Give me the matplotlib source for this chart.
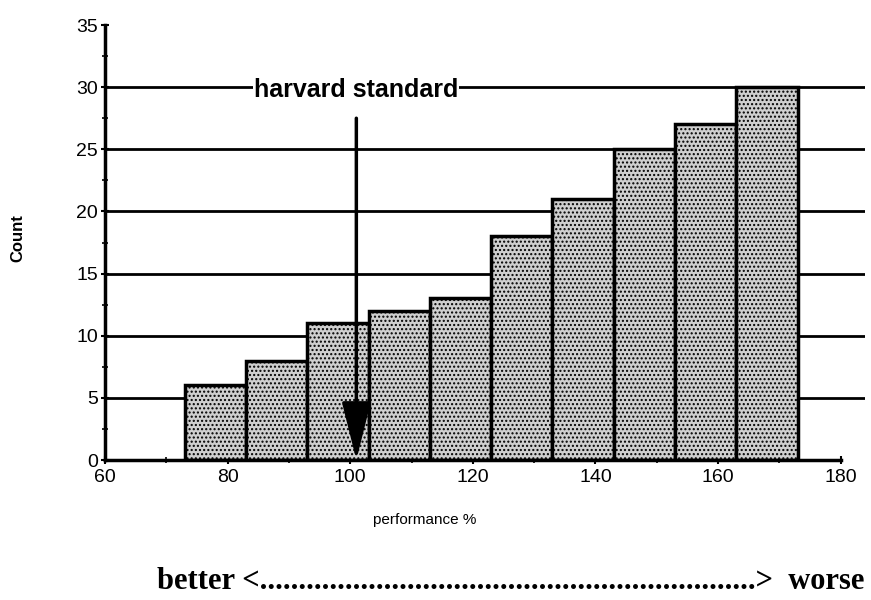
import matplotlib.pyplot as plt
from matplotlib.ticker import MultipleLocator

# ── Data ────────────────────────────────────────────────────────────────────
bin_edges = [73, 83, 93, 103, 113, 123, 133, 143, 153, 163, 173]
counts    = [6, 8, 11, 12, 13, 18, 21, 25, 27, 30]
grid_y    = [5, 10, 15, 20, 25, 30]
x_ticks   = [60, 80, 100, 120, 140, 160, 180]
y_ticks   = [0, 5, 10, 15, 20, 25, 30, 35]
standard_x = 101
arrow_top  = 27.5

plt.rcParams.update({"font.family": "Liberation Sans", "hatch.color": "#6a6a6a"})

fig = plt.figure(figsize=(8.71, 6.0), dpi=100)
ax = fig.add_axes([0.1206, 0.2333, 0.8726, 0.725])

# gridlines behind the bars
for gy in grid_y:
    ax.axhline(gy, color="black", linewidth=2.0, zorder=1)

widths = [b - a for a, b in zip(bin_edges[:-1], bin_edges[1:])]
ax.bar(bin_edges[:-1], counts, width=widths, align="edge",
       facecolor="#cfcfcf", edgecolor="black", linewidth=2.5,
       hatch="....", zorder=2)

# harvard standard arrow
ax.annotate("", xy=(standard_x, 0), xytext=(standard_x, arrow_top),
            arrowprops=dict(arrowstyle="-|>,head_length=3.6,head_width=0.9",
                            color="black", linewidth=2.5, shrinkA=0, shrinkB=0),
            zorder=4)
ax.text(standard_x, 29.8, "harvard standard", ha="center", va="center",
        fontsize=18, fontweight="bold", zorder=5,
        bbox=dict(facecolor="white", edgecolor="none", pad=0.5))

ax.set_xlim(60, 184)
ax.set_ylim(0, 35)
ax.set_xticks(x_ticks)
ax.set_yticks(y_ticks)
ax.xaxis.set_minor_locator(MultipleLocator(10))
ax.yaxis.set_minor_locator(MultipleLocator(2.5))
ax.tick_params(axis="both", which="major", direction="inout", length=6, width=1.5,
               labelsize=14)
ax.tick_params(axis="y", which="major", pad=2)
ax.tick_params(axis="both", which="minor", direction="inout", length=4, width=1.2)

for side in ["top", "right"]:
    ax.spines[side].set_visible(False)
ax.spines["left"].set_linewidth(2.5)
ax.spines["bottom"].set_linewidth(2.5)
ax.spines["bottom"].set_bounds(60, 180)

fig.text(0.488, 0.133, "performance %", ha="center", va="center", fontsize=11)
fig.text(0.02, 0.603, "Count", rotation=90, ha="center", va="center",
         fontsize=12, fontweight="bold")

fig.text(0.180, 0.0183, "better <" + "." * 64 + ">  worse", ha="left", va="baseline",
         fontsize=22, fontweight="bold", family="Liberation Serif")

fig.savefig("out.png", dpi=100)
